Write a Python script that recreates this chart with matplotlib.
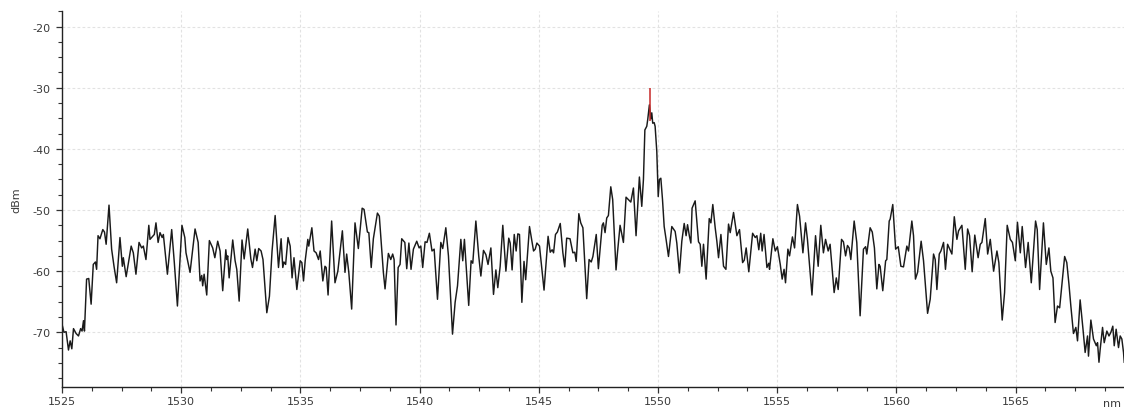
import matplotlib
matplotlib.use("Agg")
import matplotlib.pyplot as plt
from matplotlib.ticker import MultipleLocator

# Optical spectrum trace: wavelength (nm) and power (dBm)
wavelength_nm = [
    1525.00, 1525.08, 1525.17, 1525.27, 1525.34, 1525.41, 1525.48, 1525.59, 1525.69, 1525.78,
    1525.84, 1525.90, 1525.94, 1526.03, 1526.12, 1526.22, 1526.31, 1526.40, 1526.45, 1526.51,
    1526.59, 1526.71, 1526.78, 1526.85, 1526.97, 1527.08, 1527.18, 1527.29, 1527.43, 1527.53,
    1527.57, 1527.69, 1527.90, 1527.99, 1528.10, 1528.23, 1528.34, 1528.41, 1528.52, 1528.64,
    1528.69, 1528.80, 1528.87, 1528.94, 1529.03, 1529.11, 1529.20, 1529.25, 1529.42, 1529.60,
    1529.71, 1529.84, 1530.03, 1530.15, 1530.20, 1530.30, 1530.37, 1530.58, 1530.71, 1530.79,
    1530.86, 1530.90, 1530.96, 1531.07, 1531.18, 1531.32, 1531.41, 1531.53, 1531.63, 1531.74,
    1531.87, 1531.91, 1531.95, 1532.01, 1532.16, 1532.26, 1532.33, 1532.43, 1532.55, 1532.64,
    1532.79, 1532.92, 1532.99, 1533.10, 1533.17, 1533.25, 1533.35, 1533.43, 1533.59, 1533.70,
    1533.81,
    1533.94, 1534.08, 1534.19, 1534.26, 1534.31, 1534.38, 1534.48, 1534.57, 1534.65, 1534.73,
    1534.85, 1534.99, 1535.06, 1535.13, 1535.20, 1535.31, 1535.35, 1535.48, 1535.57, 1535.66,
    1535.76, 1535.83, 1535.94, 1536.03, 1536.08, 1536.16, 1536.31, 1536.45, 1536.57, 1536.76,
    1536.87, 1536.94, 1537.03, 1537.15, 1537.29, 1537.43, 1537.59, 1537.67, 1537.81, 1537.87,
    1537.97, 1538.06, 1538.23, 1538.31, 1538.48, 1538.55, 1538.69, 1538.79, 1538.87, 1538.93,
    1539.01, 1539.10, 1539.18, 1539.25, 1539.38, 1539.46, 1539.55, 1539.64, 1539.74, 1539.88,
    1539.98, 1540.05, 1540.13, 1540.23, 1540.31, 1540.41, 1540.52, 1540.61, 1540.75, 1540.89,
    1540.97, 1541.10, 1541.21, 1541.38, 1541.49, 1541.59, 1541.73, 1541.81, 1541.88, 1542.06,
    1542.16, 1542.23, 1542.36, 1542.48, 1542.57,
    1542.68, 1542.78, 1542.87, 1542.99, 1543.10, 1543.20, 1543.28, 1543.38, 1543.49, 1543.62,
    1543.74, 1543.80, 1543.88, 1543.97, 1544.05, 1544.12, 1544.19, 1544.29, 1544.38, 1544.45,
    1544.61, 1544.78, 1544.85, 1544.92, 1545.03, 1545.22, 1545.39, 1545.48, 1545.56, 1545.62,
    1545.70, 1545.78, 1545.90, 1546.01, 1546.09, 1546.17, 1546.31, 1546.43, 1546.51, 1546.57,
    1546.68, 1546.76, 1546.85, 1547.01, 1547.11, 1547.20, 1547.27, 1547.41, 1547.50, 1547.66,
    1547.71, 1547.78, 1547.85, 1547.92, 1548.02, 1548.10, 1548.24, 1548.30, 1548.41, 1548.55,
    1548.66, 1548.76, 1548.86, 1548.97, 1549.08, 1549.22, 1549.32, 1549.39, 1549.45, 1549.53,
    1549.57, 1549.64, 1549.70, 1549.74, 1549.78, 1549.84, 1549.88, 1549.95, 1550.01, 1550.06,
    1550.12, 1550.19, 1550.26, 1550.34, 1550.44, 1550.58, 1550.72, 1550.79, 1550.90, 1551.00,
    1551.10, 1551.18, 1551.24, 1551.32, 1551.38, 1551.43,
    1551.56, 1551.70, 1551.77, 1551.84, 1551.91, 1552.02, 1552.15, 1552.22, 1552.30, 1552.40,
    1552.47, 1552.54, 1552.64, 1552.75, 1552.85, 1552.96, 1553.03, 1553.17, 1553.31, 1553.42,
    1553.55, 1553.62, 1553.70, 1553.81, 1553.97, 1554.08, 1554.15, 1554.23, 1554.31, 1554.37,
    1554.45, 1554.57, 1554.65, 1554.68, 1554.82, 1554.92, 1555.01, 1555.13, 1555.21, 1555.29,
    1555.35, 1555.45, 1555.52, 1555.64, 1555.73, 1555.85, 1555.94, 1556.08, 1556.19, 1556.27,
    1556.36, 1556.46, 1556.61, 1556.72, 1556.83, 1556.94, 1557.03, 1557.14, 1557.22, 1557.39,
    1557.48, 1557.56, 1557.70, 1557.78, 1557.87, 1557.95, 1558.02, 1558.09, 1558.23, 1558.34,
    1558.48, 1558.62, 1558.71, 1558.76, 1558.90, 1558.99, 1559.08, 1559.18, 1559.27, 1559.32,
    1559.43, 1559.55, 1559.60, 1559.70, 1559.74, 1559.85, 1559.97, 1560.08, 1560.19,
    1560.30, 1560.44, 1560.51, 1560.65, 1560.72, 1560.80, 1560.89, 1561.04, 1561.14, 1561.31,
    1561.42, 1561.56, 1561.63, 1561.70, 1561.80, 1561.87, 1561.98, 1562.06, 1562.15, 1562.33,
    1562.43, 1562.54, 1562.61, 1562.75, 1562.89, 1562.99, 1563.07, 1563.18, 1563.29, 1563.43,
    1563.52, 1563.59, 1563.73, 1563.83, 1563.94, 1564.08, 1564.22, 1564.30, 1564.44, 1564.54,
    1564.65, 1564.78, 1564.87, 1564.99, 1565.08, 1565.20, 1565.28, 1565.42, 1565.53, 1565.66,
    1565.84, 1565.91, 1566.01, 1566.17, 1566.29, 1566.40, 1566.48, 1566.57, 1566.66, 1566.76,
    1566.85, 1567.06, 1567.15, 1567.24, 1567.32, 1567.43, 1567.53, 1567.60, 1567.71, 1567.83,
    1567.92, 1568.02, 1568.06, 1568.16, 1568.27, 1568.39, 1568.44, 1568.50, 1568.55, 1568.65,
    1568.72, 1568.83, 1568.92, 1569.00, 1569.08, 1569.14, 1569.22, 1569.32, 1569.39, 1569.46,
    1569.53, 1569.56,
]

power_dbm = [
    -68.7, -70.0, -69.9, -72.9, -71.4, -72.7, -69.4, -70.2, -70.6, -69.4,
    -69.8, -68.1, -69.8, -61.3, -61.2, -65.4, -58.9, -58.5, -59.7, -54.2,
    -54.7, -53.2, -53.6, -55.6, -49.2, -56.4, -59.2, -61.9, -54.5, -59.2,
    -57.8, -60.9, -55.9, -57.0, -60.5, -55.3, -56.2, -55.9, -58.1, -52.5,
    -54.8, -54.3, -54.0, -52.1, -55.3, -53.7, -54.5, -54.0, -60.5, -53.2,
    -58.6, -65.7, -52.5, -54.5, -57.0, -58.9, -60.2, -53.1, -55.3, -61.6,
    -60.7, -62.4, -60.5, -63.9, -55.0, -56.2, -57.8, -55.1, -56.7, -63.2,
    -56.5, -58.1, -57.5, -61.1, -54.9, -58.3, -59.7, -64.9, -54.9, -58.0,
    -53.1, -58.0, -59.4, -56.4, -58.3, -56.3, -56.7, -58.1, -66.8, -64.1,
    -56.7,
    -50.9, -59.4, -54.7, -59.4, -58.5, -58.9, -54.5, -55.9, -61.1, -57.8,
    -63.0, -58.3, -58.6, -61.6, -58.3, -54.8, -55.9, -52.9, -56.7, -57.0,
    -58.1, -56.7, -61.6, -59.2, -59.4, -63.9, -51.8, -61.9, -60.0, -53.4,
    -60.2, -57.2, -60.2, -66.2, -52.1, -56.3, -49.7, -49.9, -53.6, -53.7,
    -59.4, -54.7, -50.5, -51.0, -60.2, -62.9, -57.1, -58.1, -57.2, -58.1,
    -68.8, -59.4, -58.9, -54.7, -55.3, -59.6, -55.4, -59.7, -56.4, -55.1,
    -56.2, -55.9, -59.4, -55.2, -55.3, -53.8, -56.7, -56.4, -64.6, -55.3,
    -56.3, -52.9, -57.5, -70.3, -65.1, -62.4, -54.8, -58.3, -54.8, -65.6,
    -58.3, -58.7, -51.8, -57.5, -60.8,
    -56.6, -57.3, -58.9, -56.2, -63.8, -59.8, -62.7, -59.2, -52.5, -60.0,
    -54.6, -55.4, -59.8, -54.0, -56.7, -53.9, -54.0, -65.1, -58.4, -61.4,
    -52.7, -56.7, -56.4, -55.4, -55.9, -63.1, -54.3, -56.9, -56.5, -57.0,
    -54.0, -53.6, -52.2, -57.0, -59.3, -54.6, -54.7, -57.0, -56.9, -58.4,
    -50.6, -52.1, -52.9, -64.5, -58.1, -58.5, -57.6, -54.0, -59.6, -52.5,
    -52.1, -53.7, -51.3, -50.9, -46.2, -48.3, -59.8, -57.0, -52.5, -55.3,
    -47.9, -48.3, -48.7, -46.4, -54.2, -44.6, -49.4, -45.0, -36.9, -36.3,
    -35.2, -32.8, -35.1, -34.1, -35.8, -35.7, -36.3, -40.4, -47.8, -45.0,
    -44.8, -48.3, -52.7, -54.8, -57.6, -52.7, -53.5, -55.4, -60.3, -55.1,
    -52.2, -54.2, -52.4, -54.3, -55.4, -49.7,
    -48.5, -55.2, -55.6, -59.2, -55.6, -61.3, -51.4, -52.1, -49.1, -52.9,
    -55.1, -57.8, -54.0, -59.2, -59.7, -52.3, -53.7, -50.4, -54.2, -53.2,
    -58.6, -58.2, -56.2, -60.1, -53.8, -54.5, -54.2, -56.5, -53.8, -56.7,
    -54.0, -59.4, -58.7, -59.7, -54.7, -56.7, -56.0, -58.9, -61.3, -59.7,
    -61.9, -56.4, -57.5, -54.4, -56.2, -49.1, -51.0, -57.0, -52.1, -54.8,
    -59.2, -63.9, -54.2, -59.2, -52.5, -57.0, -54.8, -56.7, -55.6, -63.5,
    -61.1, -63.0, -54.8, -55.2, -57.5, -55.8, -56.2, -58.1, -51.8, -55.3,
    -67.3, -56.4, -56.0, -57.2, -52.9, -53.6, -56.2, -62.9, -58.9, -59.2,
    -63.2, -58.3, -58.1, -51.8, -51.5, -49.1, -56.4, -56.0, -59.2,
    -59.3, -55.9, -56.7, -51.8, -54.2, -61.3, -60.2, -55.1, -58.3, -66.9,
    -64.6, -57.2, -58.1, -63.0, -57.2, -56.7, -55.3, -59.7, -55.6, -57.2,
    -51.1, -54.8, -53.4, -52.5, -59.7, -53.1, -54.2, -60.1, -54.1, -57.8,
    -55.6, -55.3, -51.4, -57.2, -54.8, -60.0, -56.7, -58.6, -68.0, -63.5,
    -52.5, -54.8, -55.3, -58.3, -52.0, -57.0, -52.7, -59.4, -55.3, -61.9,
    -51.8, -53.2, -63.0, -52.1, -58.9, -56.2, -60.0, -61.1, -68.4, -65.7,
    -66.0, -57.6, -58.6, -62.1, -65.7, -70.2, -69.2, -71.4, -64.7, -69.5,
    -73.3, -70.6, -73.9, -68.0, -71.1, -72.2, -71.7, -74.9, -72.8, -69.2,
    -71.7, -69.8, -70.6, -70.0, -69.0, -72.2, -69.5, -72.5, -70.6, -71.1,
    -73.3, -74.9,
]

# Peak marker (highest sample of the signal line)
peak_nm = 1549.66
peak_top_dbm = -30.0
peak_base_dbm = -35.5

x_major = [1525, 1530, 1535, 1540, 1545, 1550, 1555, 1560, 1565]
x_labels = ["1525", "1530", "1535", "1540", "1545", "1550", "1555", "1560", "1565"]
y_major = [-70, -60, -50, -40, -30, -20]
y_labels = ["-70", "-60", "-50", "-40", "-30", "-20"]

text_color = "#3a3a3a"
plt.rcParams["font.family"] = ["DejaVu Sans"]

fig = plt.figure(figsize=(11.24, 4.10), dpi=100)
ax = fig.add_axes([0.0552, 0.0529, 0.9448, 0.917])

ax.plot(wavelength_nm, power_dbm, color="#1a1a1a", lw=1.05, solid_joinstyle="round")
ax.vlines(peak_nm, peak_base_dbm, peak_top_dbm, color="#c62828", lw=1.1, zorder=3)

ax.set_xlim(1525, 1569.55)
ax.set_ylim(-79.0, -17.5)

ax.set_xticks(x_major)
ax.set_xticklabels(x_labels)
ax.set_yticks(y_major)
ax.set_yticklabels(y_labels)
ax.xaxis.set_minor_locator(MultipleLocator(1.25))
ax.yaxis.set_minor_locator(MultipleLocator(2.5))

ax.tick_params(axis="both", which="major", direction="out", length=4, width=0.9,
               colors="#333333", labelcolor=text_color, labelsize=8)
ax.tick_params(axis="both", which="minor", direction="out", length=3, width=0.8,
               colors="#333333")
ax.tick_params(axis="y", which="major", pad=4)
ax.tick_params(axis="x", which="major", pad=2.5)

ax.grid(True, which="major", color="#e2e2e2", linestyle=(0, (2.5, 2)), linewidth=0.8)
ax.set_axisbelow(True)

for side in ("top", "right"):
    ax.spines[side].set_visible(False)
for side in ("left", "bottom"):
    ax.spines[side].set_color("#222222")
    ax.spines[side].set_linewidth(1.0)

ax.set_ylabel("dBm", fontsize=8, color=text_color, labelpad=8)
fig.text(0.9813, 0.003, "nm", fontsize=8, color=text_color, ha="left", va="bottom")

fig.savefig("out.png", dpi=100)
